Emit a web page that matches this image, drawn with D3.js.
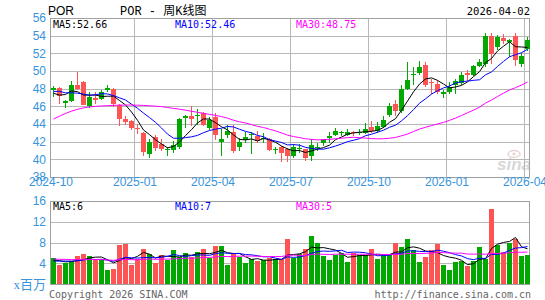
<!DOCTYPE html>
<html><head><meta charset="utf-8">
<script src="https://cdn.jsdelivr.net/npm/d3@7"></script>
<style>body{margin:0;background:#fff}svg{display:block}</style>
</head><body><svg id="c" width="545" height="300"></svg>
<script>
// ---------------- data ----------------
const symbol = "POR";
const titleText = "POR - 周K线图";
const lastDate = "2026-04-02";
const firstWeek = "2024-09-23";           // Monday of the first weekly bar
const monthLabels = ["2024-10","2025-01","2025-04","2025-07","2025-10","2026-01","2026-04"];
const priceTicks = [38,40,42,44,46,48,50,52,54,56];
const volumeTicks = [4,8,12,16];
const volumeUnit = "x百万";
const priceMaLegend = [52.66, 52.46, 48.75];
const volumeMaLegend = [6, 7, 5];
const copyrightText = "Copyright 2026 SINA.COM";
const siteText = "http://finance.sina.com.cn";

const opens = [47.9,48.1,46.4,46.6,48.4,48.7,46.0,47.0,46.8,47.9,
  48.0,46.2,44.6,44.3,43.6,43.0,40.65,42.5,41.7,41.05,
  41.1,41.4,44.7,44.85,44.9,45.2,43.6,44.8,41.95,42.7,
  43.1,41.4,42.2,42.75,42.6,42.35,42.25,41.1,41.4,41.15,
  40.4,41.15,41.15,40.4,41.35,41.8,42.4,42.8,42.95,42.8,
  43.05,42.95,43.0,43.65,43.2,43.65,45.0,46.25,45.5,48.0,
  49.55,49.8,50.7,48.75,48.55,47.4,47.65,48.4,48.65,49.75,
  49.5,50.6,50.8,54.0,52.7,53.7,53.25,54.0,50.8,52.5];
const highs = [48.3,48.2,46.7,48.9,49.9,48.9,47.6,47.6,47.9,48.4,
  48.1,46.3,44.95,44.5,44.0,43.1,42.3,42.7,42.25,41.4,
  42.05,44.7,45.0,46.0,45.7,45.4,44.8,45.3,43.4,43.9,
  43.9,42.4,43.05,43.1,43.2,43.0,42.4,41.4,41.5,41.3,
  41.7,41.7,41.2,42.3,41.9,42.35,43.1,43.6,43.2,43.4,
  43.2,43.4,44.1,44.3,44.2,44.85,46.35,46.7,48.4,51.0,
  50.4,51.1,51.0,49.1,48.95,47.8,48.8,49.15,49.9,50.15,
  50.65,51.4,54.25,54.25,54.1,54.2,53.6,54.3,52.0,53.9];
const lows = [47.1,46.3,45.8,46.5,47.8,46.1,45.8,46.3,46.7,47.65,
  45.9,43.8,43.9,43.3,42.9,40.4,40.1,40.95,40.95,40.4,
  40.7,41.2,43.6,43.8,43.9,43.8,43.3,42.2,40.4,42.4,
  40.75,40.95,41.9,40.55,41.9,41.9,41.0,40.6,39.65,39.7,
  40.2,40.75,39.8,39.8,40.95,41.5,41.9,42.6,42.6,42.6,
  42.6,42.7,42.9,43.0,43.0,43.5,44.8,44.85,45.3,47.9,
  48.4,49.5,48.2,47.45,47.4,47.0,47.35,47.4,48.4,48.9,
  49.4,50.4,50.5,50.75,52.4,53.1,51.55,50.6,50.4,52.3];
const closes = [48.1,47.2,46.6,48.4,48.0,46.2,47.1,46.7,47.6,48.1,
  46.3,44.6,44.2,43.6,43.4,40.8,42.0,41.3,41.2,41.2,
  41.6,44.55,44.9,44.55,45.0,43.85,44.5,42.8,42.3,43.2,
  41.0,41.95,42.55,42.85,42.05,42.45,41.1,41.2,40.75,40.4,
  41.4,41.25,40.1,41.6,41.45,42.25,42.65,43.2,43.05,43.1,
  42.95,43.05,43.45,43.25,43.75,44.5,46.0,45.5,48.0,49.0,
  49.7,50.4,48.4,48.6,47.6,47.65,48.2,48.9,49.5,49.6,
  50.6,51.0,54.0,51.9,53.8,53.35,53.5,51.2,51.75,53.5];
const volumes = [5.1,3.65,4.0,4.5,5.4,5.8,5.4,4.8,4.6,2.75,
  2.9,7.5,7.7,3.65,4.9,6.7,5.8,4.0,5.6,4.6,
  6.5,5.3,6.0,5.3,6.1,6.7,5.1,7.3,7.3,3.7,
  6.0,5.2,4.0,4.8,4.4,4.6,5.1,4.8,4.8,8.6,
  5.1,5.8,6.8,9.2,7.9,5.4,4.6,5.6,6.0,4.2,
  6.0,5.6,5.6,6.7,4.8,5.6,5.6,8.0,7.05,8.65,
  6.5,4.3,5.3,6.5,7.7,3.65,2.75,4.3,4.5,3.5,
  4.5,7.05,4.8,14.4,7.6,6.2,8.0,8.65,5.45,5.6];
// weeks before the first visible bar (only feed the moving averages)
const priorCloses = [37.45,37.45,40.45,41.85,41.25,43.95,44.75,46.25,47.05,45.4,
  43.7,43.9,43.6,44.0,41.4,43.2,42.8,42.7,44.2,44.6,
  47.1,48.35,48.3,48.45,47.3,48.25,46.25,46.35,48.45];
const priorVolumes = [5.2,4.6,6.1,5.0,4.4,5.8,4.9,5.5,4.7,5.3,
  4.2,6.0,4.8,5.1,4.5,3.9,5.6,4.9,4.3,5.2,
  4.1,3.8,4.6,4.9,3.9,4.4,5.1,4.2,4.4];

// ---------------- chart ----------------
const UP = "#00a800", DOWN = "#ff5454";
const MA_COLORS = ["#000000", "#0000ff", "#ff00ff"];
const MA_N = [5, 10, 30];
const GRID = "#b8b8b8", BORDER = "#a0a0a0", AXIS_TXT = "#3794dc";
const MONO = "'DejaVu Sans Mono','Liberation Mono',monospace";

const n = closes.length;
const idx = d3.range(n);
const mondays = d3.timeMonday.range(d3.timeParse("%Y-%m-%d")(firstWeek),
  d3.timeDay.offset(d3.timeParse("%Y-%m-%d")(firstWeek), 7 * n));
const fridays = mondays.map(d => d3.timeDay.offset(d, 4));
const fmtMonth = d3.timeFormat("%Y-%m");

const L = 50, R = 530;
const x = d3.scaleBand().domain(idx).range([L, R]).padding(0);
const y = d3.scaleLinear().domain([38, 56]).range([177, 18]);
const yv = d3.scaleLinear().domain([0, 16]).range([284, 201]);

const svg = d3.select("#c");

function movingAvg(prior, vals, w) {
  const all = prior.concat(vals), off = prior.length;
  return vals.map((_, i) => d3.mean(all.slice(off + i - w + 1, off + i + 1)));
}

// --- price panel gridlines and frame ---
const gp = svg.append("g");
gp.selectAll("line.h").data(priceTicks.filter(v => v > 38 && v < 56)).join("line")
  .attr("x1", L + 0.5).attr("x2", R - 0.5)
  .attr("y1", d => Math.round(y(d)) + 0.5).attr("y2", d => Math.round(y(d)) + 0.5)
  .attr("stroke", GRID);
// month gridlines (first label pinned to the axis start)
const tickIdx = monthLabels.map((m, k) => k === 0 ? 0 : fridays.findIndex(d => fmtMonth(d) === m));
gp.selectAll("line.v").data(tickIdx.slice(1)).join("line")
  .attr("x1", d => x(d) + 0.5).attr("x2", d => x(d) + 0.5)
  .attr("y1", Math.round(y(56)) + 0.5).attr("y2", Math.round(y(38)) + 0.5)
  .attr("stroke", GRID);
gp.append("rect").attr("x", L + 0.5).attr("y", Math.round(y(56)) + 0.5)
  .attr("width", R - L - 1).attr("height", Math.round(y(38)) - Math.round(y(56)))
  .attr("fill", "none").attr("stroke", BORDER);

// watermark
const wm = svg.append("g").attr("opacity", 0.55);
wm.append("ellipse").attr("cx", 514).attr("cy", 154).attr("rx", 6).attr("ry", 3.5)
  .attr("fill", "none").attr("stroke", "#d9b0b0").attr("stroke-width", 1.5);
wm.append("circle").attr("cx", 514).attr("cy", 154).attr("r", 1.6).attr("fill", "#d9b0b0");
wm.append("text").attr("x", 497).attr("y", 170).text("sina")
  .attr("font-family", "'Liberation Sans',Arial,sans-serif").attr("font-size", 17)
  .attr("font-weight", "bold").attr("font-style", "italic").attr("fill", "#b8b8b8");

// candles
const cg = svg.append("g");
idx.forEach(i => {
  const o = opens[i], c = closes[i], col = c >= o ? UP : DOWN;
  const cx = x(i) + 3.5;
  cg.append("line").attr("x1", cx).attr("x2", cx)
    .attr("y1", Math.round(y(highs[i]))).attr("y2", Math.round(y(lows[i])))
    .attr("stroke", col);
  const top = Math.round(y(Math.max(o, c))), bot = Math.round(y(Math.min(o, c)));
  cg.append("rect").attr("x", x(i) + 1).attr("width", 5)
    .attr("y", top).attr("height", Math.max(1, bot - top)).attr("fill", col);
});

// price MAs
const lineP = d3.line().x((d, i) => x(i) + 3.5).y(d => y(d));
MA_N.forEach((w, k) => {
  svg.append("path").datum(movingAvg(priorCloses, closes, w)).attr("d", lineP)
    .attr("fill", "none").attr("stroke", MA_COLORS[k]).attr("stroke-width", 1);
});

// price axis labels
svg.append("g").selectAll("text").data(priceTicks).join("text")
  .attr("x", 46).attr("y", d => y(d)).attr("dy", "0.36em").attr("text-anchor", "end")
  .attr("font-family", "'Liberation Sans',Arial,sans-serif").attr("font-size", 12)
  .attr("fill", AXIS_TXT).text(d => d);
// date labels
svg.append("g").selectAll("text").data(monthLabels).join("text")
  .attr("x", (d, k) => x(tickIdx[k]) + 1).attr("y", 186).attr("text-anchor", "middle")
  .attr("font-family", "'Liberation Sans',Arial,sans-serif").attr("font-size", 12)
  .attr("fill", AXIS_TXT).text(d => d);

// header texts
svg.append("text").attr("x", 48).attr("y", 15).text(symbol)
  .attr("font-family", "'Liberation Sans',Arial,sans-serif").attr("font-size", 12).attr("fill", "#000");
svg.append("text").attr("x", 120).attr("y", 15).text(titleText)
  .attr("font-family", "'Liberation Mono','Noto Sans CJK SC',monospace").attr("font-size", 12).attr("fill", "#000");
svg.append("text").attr("x", 530).attr("y", 15).attr("text-anchor", "end").text(lastDate)
  .attr("font-family", MONO).attr("font-size", 10.5).attr("fill", "#000");

// price legend
const legX = [53, 175, 296];
MA_N.forEach((w, k) => {
  svg.append("text").attr("x", legX[k]).attr("y", 27.5)
    .text("MA" + w + ":" + priceMaLegend[k].toFixed(2))
    .attr("font-family", MONO).attr("font-size", 10).attr("fill", MA_COLORS[k]);
});

// --- volume panel ---
const gv = svg.append("g");
gv.selectAll("line").data(volumeTicks.filter(v => v < 16)).join("line")
  .attr("x1", L + 0.5).attr("x2", R - 0.5)
  .attr("y1", d => Math.round(yv(d)) + 0.5).attr("y2", d => Math.round(yv(d)) + 0.5)
  .attr("stroke", GRID);
gv.append("rect").attr("x", L + 0.5).attr("y", Math.round(yv(16)) + 0.5)
  .attr("width", R - L - 1).attr("height", Math.round(yv(0)) - Math.round(yv(16)))
  .attr("fill", "none").attr("stroke", BORDER);

svg.append("g").selectAll("rect").data(volumes).join("rect")
  .attr("x", (d, i) => x(i) + 1).attr("width", 5)
  .attr("y", d => Math.round(yv(d))).attr("height", d => Math.round(yv(0)) - Math.round(yv(d)))
  .attr("fill", (d, i) => closes[i] >= opens[i] ? UP : DOWN);

const lineV = d3.line().x((d, i) => x(i) + 3.5).y(d => yv(d));
MA_N.forEach((w, k) => {
  svg.append("path").datum(movingAvg(priorVolumes, volumes, w)).attr("d", lineV)
    .attr("fill", "none").attr("stroke", MA_COLORS[k]).attr("stroke-width", 1);
});

svg.append("g").selectAll("text").data(volumeTicks).join("text")
  .attr("x", 46).attr("y", d => yv(d)).attr("dy", "0.36em").attr("text-anchor", "end")
  .attr("font-family", "'Liberation Sans',Arial,sans-serif").attr("font-size", 12)
  .attr("fill", AXIS_TXT).text(d => d);
svg.append("text").attr("x", 46).attr("y", yv(0)).attr("dy", "0.36em").attr("text-anchor", "end")
  .attr("font-family", "'Liberation Serif','Noto Sans CJK SC',serif").attr("font-size", 13)
  .attr("fill", AXIS_TXT).text(volumeUnit);

MA_N.forEach((w, k) => {
  svg.append("text").attr("x", legX[k]).attr("y", 210)
    .text("MA" + w + ":" + volumeMaLegend[k])
    .attr("font-family", MONO).attr("font-size", 10).attr("fill", MA_COLORS[k]);
});

// footer
svg.append("text").attr("x", 49).attr("y", 298).text(copyrightText)
  .attr("font-family", MONO).attr("font-size", 10).attr("fill", "#666");
svg.append("text").attr("x", 531).attr("y", 298).attr("text-anchor", "end").text(siteText)
  .attr("font-family", MONO).attr("font-size", 10).attr("fill", "#666");
</script></body></html>
